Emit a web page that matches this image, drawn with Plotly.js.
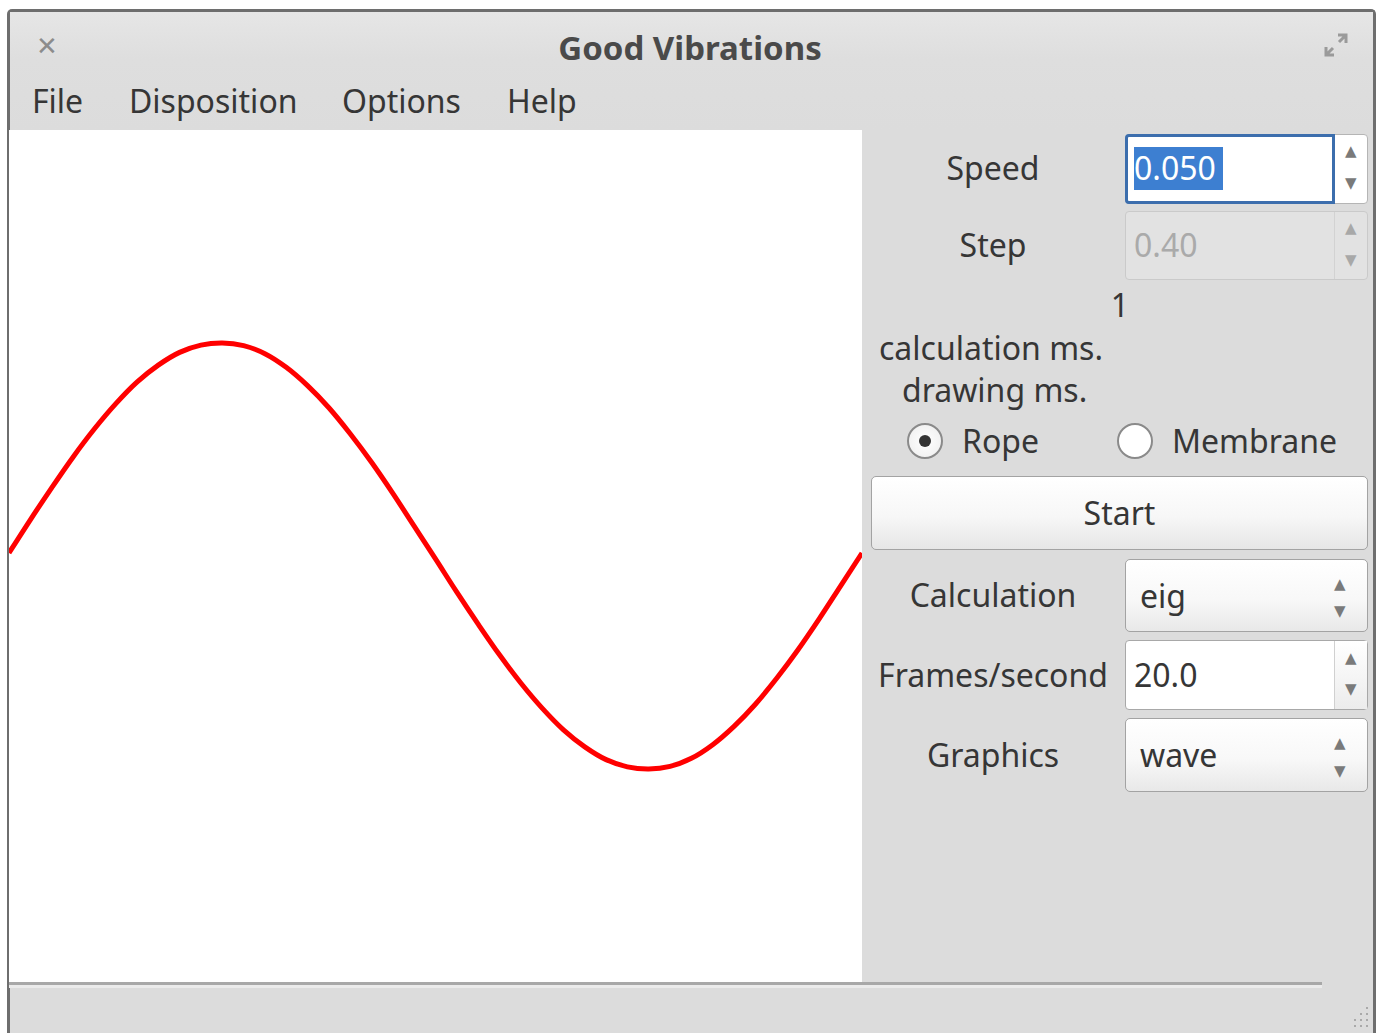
<!DOCTYPE html>
<html><head><meta charset="utf-8">
<script src="https://cdn.plot.ly/plotly-3.0.1.min.js"></script>
<style>
body{margin:0;background:#fff;width:1381px;height:1033px;overflow:hidden;position:relative;font-family:"Noto Sans",sans-serif;color:#363636}
.a{position:absolute;box-sizing:border-box}
.t{position:absolute;white-space:nowrap;font-size:32px;line-height:44px;height:44px}
.c{text-align:center}
.arr{position:absolute;font-size:15px;line-height:16px;color:#7a7a7a;font-family:"DejaVu Sans",sans-serif}
</style></head><body>
<!-- window frame -->
<div class="a" style="left:7px;top:9px;width:1369px;height:1030px;background:#dcdcdc;border:3px solid #6e6e6e;border-bottom:none;border-radius:5px 5px 0 0"></div>
<div class="a" style="left:10px;top:12px;width:1363px;height:118px;background:linear-gradient(#e6e6e6,#dedede 40%,#dcdcdc)"></div>
<div class="t" style="left:36px;top:24px;font-size:26px;font-weight:bold;color:#8c8c8c;font-family:'DejaVu Sans',sans-serif">✕</div>
<div class="t c" style="left:390px;top:26px;width:600px;font-weight:bold;font-size:33px;color:#4a4a4a">Good Vibrations</div>
<svg class="a" style="left:1322px;top:31px" width="28" height="28" viewBox="0 0 28 28">
 <path d="M16 4 L24 4 L24 12 M24 4 L17 11" stroke="#9a9a9a" stroke-width="3" fill="none"/>
 <path d="M4 16 L4 24 L12 24 M4 24 L11 17" stroke="#9a9a9a" stroke-width="3" fill="none"/>
</svg>
<div class="t" style="left:32px;top:79px">File</div>
<div class="t" style="left:129px;top:79px">Disposition</div>
<div class="t" style="left:342px;top:79px">Options</div>
<div class="t" style="left:507px;top:79px">Help</div>

<!-- plot -->
<div id="plot" class="a" style="left:9px;top:130px;width:853px;height:852px;background:#fff"></div>

<!-- bottom status -->
<div class="a" style="left:9px;top:982px;width:1313px;height:3px;background:#a8a8a8"></div>
<div class="a" style="left:9px;top:985px;width:1313px;height:3px;background:#ebebeb"></div>
<svg class="a" style="left:1350px;top:1005px" width="22" height="28">
 <g fill="#a9a9a9"><rect x="16" y="2" width="2" height="2"/><rect x="10" y="8" width="2" height="2"/><rect x="16" y="8" width="2" height="2"/><rect x="4" y="14" width="2" height="2"/><rect x="10" y="14" width="2" height="2"/><rect x="16" y="14" width="2" height="2"/><rect x="4" y="20" width="2" height="2"/><rect x="10" y="20" width="2" height="2"/><rect x="16" y="20" width="2" height="2"/></g>
</svg>

<!-- right panel -->
<div class="t c" style="left:873px;top:146px;width:240px">Speed</div>
<div class="a" style="left:1125px;top:134px;width:243px;height:70px;background:#fff;border:1px solid #b5b5b5;border-radius:4px"></div>
<div class="a" style="left:1125px;top:134px;width:210px;height:70px;border:3px solid #3c6ead;border-radius:4px 0 0 4px"></div>
<div class="a" style="left:1134px;top:147px;width:89px;height:43px;background:#3d7fd1"></div>
<div class="t" style="left:1134px;top:146px;color:#fff">0.050</div>
<div class="arr" style="left:1345px;top:143px">▲</div>
<div class="arr" style="left:1345px;top:175px">▼</div>

<div class="t c" style="left:873px;top:223px;width:240px">Step</div>
<div class="a" style="left:1125px;top:211px;width:243px;height:69px;background:#e2e2e2;border:1px solid #cacaca;border-radius:4px"></div>
<div class="a" style="left:1334px;top:212px;width:1px;height:67px;background:#d2d2d2"></div>
<div class="t" style="left:1134px;top:223px;color:#aaaaaa">0.40</div>
<div class="arr" style="left:1345px;top:220px;color:#a8a8a8">▲</div>
<div class="arr" style="left:1345px;top:252px;color:#a8a8a8">▼</div>

<div class="t c" style="left:872px;top:283px;width:496px">1</div>
<div class="t" style="left:879px;top:326px">calculation ms.</div>
<div class="t" style="left:902px;top:368px">drawing ms.</div>

<div class="a" style="left:907px;top:423px;width:36px;height:36px;border-radius:50%;border:2px solid #8a8a8a;background:radial-gradient(#ffffff,#ededed)"></div>
<div class="a" style="left:919px;top:435px;width:12px;height:12px;border-radius:50%;background:#333"></div>
<div class="t" style="left:962px;top:419px">Rope</div>
<div class="a" style="left:1117px;top:423px;width:36px;height:36px;border-radius:50%;border:2px solid #8a8a8a;background:#fff"></div>
<div class="t" style="left:1172px;top:419px">Membrane</div>

<div class="a" style="left:871px;top:476px;width:497px;height:74px;border:1px solid #a3a3a3;border-radius:5px;background:linear-gradient(#ffffff,#f7f7f7 55%,#e6e6e6)"></div>
<div class="t c" style="left:871px;top:491px;width:497px">Start</div>

<div class="t c" style="left:873px;top:573px;width:240px">Calculation</div>
<div class="a" style="left:1125px;top:559px;width:243px;height:73px;border:1px solid #a3a3a3;border-radius:5px;background:linear-gradient(#ffffff,#f8f8f8 55%,#e8e8e8)"></div>
<div class="t" style="left:1140px;top:574px">eig</div>
<div class="arr" style="left:1334px;top:576px">▲</div>
<div class="arr" style="left:1334px;top:603px">▼</div>

<div class="t c" style="left:873px;top:653px;width:240px">Frames/second</div>
<div class="a" style="left:1125px;top:640px;width:243px;height:70px;background:#fff;border:1px solid #a8a8a8;border-radius:4px"></div>
<div class="a" style="left:1334px;top:641px;width:33px;height:68px;background:linear-gradient(#fff,#ececec);border-left:1px solid #d0d0d0"></div>
<div class="t" style="left:1134px;top:653px">20.0</div>
<div class="arr" style="left:1345px;top:650px">▲</div>
<div class="arr" style="left:1345px;top:681px">▼</div>

<div class="t c" style="left:873px;top:733px;width:240px">Graphics</div>
<div class="a" style="left:1125px;top:718px;width:243px;height:74px;border:1px solid #a3a3a3;border-radius:5px;background:linear-gradient(#ffffff,#f8f8f8 55%,#e8e8e8)"></div>
<div class="t" style="left:1140px;top:733px">wave</div>
<div class="arr" style="left:1334px;top:735px">▲</div>
<div class="arr" style="left:1334px;top:763px">▼</div>

<script>
// rope displacement (x as fraction of the rope length)
const ropeX = [0,0.025,0.05,0.075,0.1,0.125,0.15,0.175,0.2,0.225,0.25,0.275,0.3,0.325,0.35,0.375,0.4,0.425,0.45,0.475,0.5,0.525,0.55,0.575,0.6,0.625,0.65,0.675,0.7,0.725,0.75,0.775,0.8,0.825,0.85,0.875,0.9,0.925,0.95,0.975,1];
const ropeY = [0.007,0.085,0.16,0.232,0.298,0.357,0.408,0.448,0.478,0.495,0.5,0.494,0.475,0.443,0.4,0.348,0.287,0.22,0.147,0.07,-0.007,-0.085,-0.16,-0.232,-0.298,-0.357,-0.408,-0.448,-0.478,-0.495,-0.5,-0.494,-0.475,-0.443,-0.4,-0.348,-0.287,-0.22,-0.147,-0.07,0.007];
const ropeColor = '#ff0000';

Plotly.newPlot('plot', [{
  x: ropeX, y: ropeY, type: 'scatter', mode: 'lines',
  line: {color: ropeColor, width: 5, shape: 'spline'}, hoverinfo: 'skip'
}], {
  width: 853, height: 852, margin: {l:0, r:0, t:0, b:0},
  paper_bgcolor: '#ffffff', plot_bgcolor: '#ffffff', showlegend: false,
  xaxis: {range: [0, 1], visible: false, fixedrange: true},
  yaxis: {range: [-1, 1], visible: false, fixedrange: true}
}, {staticPlot: true, displayModeBar: false});
</script>
</body></html>
